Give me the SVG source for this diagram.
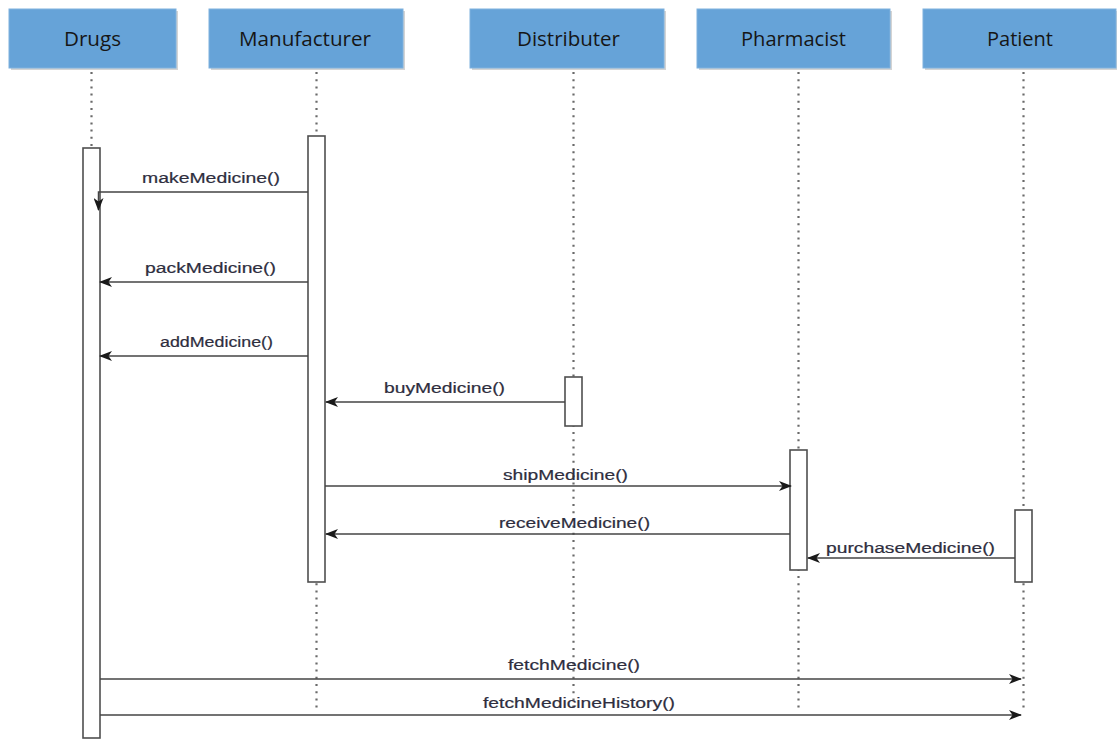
<svg xmlns="http://www.w3.org/2000/svg" width="1117" height="740" viewBox="0 0 1117 740">
  <defs>
    <marker id="arrow" viewBox="0 0 13 10" refX="12" refY="5" markerWidth="13" markerHeight="10" markerUnits="userSpaceOnUse" orient="auto">
      <path d="M0,0 L13,5 L0,10 L3.5,5 Z" fill="#1a1a1a"/>
    </marker>
    <style>
      .head { fill: #66a3d8; stroke: #7fb1de; stroke-width: 1; }
      .shadow { fill: #d4d4d4; }
      .htext { font-family: "Open Sans", "Liberation Sans", sans-serif; font-size: 20px; fill: #161616; text-anchor: middle; }
      .life { stroke: #6a6a6a; stroke-width: 2.2; stroke-dasharray: 2 5.2; fill: none; }
      .bar { fill: #ffffff; stroke: #4f4f4f; stroke-width: 1.6; }
      .msg { stroke: #444444; stroke-width: 1.5; fill: none; marker-end: url(#arrow); }
      .label { font-family: "Liberation Sans", Arial, sans-serif; font-size: 14px; fill: #2e2e3e; stroke: #2e2e3e; stroke-width: 0.2; }
    </style>
  </defs>

  <!-- lifelines -->
  <g id="lifelines">
    <line class="life" x1="91.5" y1="72" x2="91.5" y2="147"/>
    <line class="life" x1="316.5" y1="72" x2="316.5" y2="711"/>
    <line class="life" x1="573.5" y1="72" x2="573.5" y2="711"/>
    <line class="life" x1="798.5" y1="72" x2="798.5" y2="711"/>
    <line class="life" x1="1023.5" y1="72" x2="1023.5" y2="711"/>
  </g>

  <!-- participants -->
  <g id="drugs">
    <rect class="shadow" x="11" y="11" width="167" height="59"/>
    <rect class="head" x="9" y="9" width="167" height="59"/>
    <text class="htext" x="92.5" y="46" textLength="57" lengthAdjust="spacingAndGlyphs">Drugs</text>
    <rect class="bar" x="83" y="148" width="17" height="590"/>
  </g>
  <g id="manufacturer">
    <rect class="shadow" x="211" y="11" width="194" height="59"/>
    <rect class="head" x="209" y="9" width="194" height="59"/>
    <text class="htext" x="305" y="46" textLength="132" lengthAdjust="spacingAndGlyphs">Manufacturer</text>
    <rect class="bar" x="308" y="136" width="17" height="446"/>
  </g>
  <g id="distributer">
    <rect class="shadow" x="472" y="11" width="194" height="59"/>
    <rect class="head" x="470" y="9" width="194" height="59"/>
    <text class="htext" x="568.5" y="46" textLength="103" lengthAdjust="spacingAndGlyphs">Distributer</text>
    <rect class="bar" x="565" y="377" width="17" height="49"/>
  </g>
  <g id="pharmacist">
    <rect class="shadow" x="699" y="11" width="193" height="59"/>
    <rect class="head" x="697" y="9" width="193" height="59"/>
    <text class="htext" x="793.5" y="46" textLength="105" lengthAdjust="spacingAndGlyphs">Pharmacist</text>
    <rect class="bar" x="790" y="450" width="17" height="120"/>
  </g>
  <g id="patient">
    <rect class="shadow" x="925" y="11" width="193" height="59"/>
    <rect class="head" x="923" y="9" width="193" height="59"/>
    <text class="htext" x="1020" y="46" textLength="66" lengthAdjust="spacingAndGlyphs">Patient</text>
    <rect class="bar" x="1015" y="510" width="17" height="72"/>
  </g>

  <!-- messages -->
  <g id="connectors">
    <path class="msg" d="M308,192 H98.5 V210"/>
    <text class="label" x="142" y="183" textLength="138" lengthAdjust="spacingAndGlyphs">makeMedicine()</text>

    <line class="msg" x1="308" y1="282" x2="100" y2="282"/>
    <text class="label" x="145" y="273" textLength="131" lengthAdjust="spacingAndGlyphs">packMedicine()</text>

    <line class="msg" x1="308" y1="356" x2="100" y2="356"/>
    <text class="label" x="160" y="347" textLength="113" lengthAdjust="spacingAndGlyphs">addMedicine()</text>

    <line class="msg" x1="565" y1="402" x2="326" y2="402"/>
    <text class="label" x="384" y="393" textLength="121" lengthAdjust="spacingAndGlyphs">buyMedicine()</text>

    <line class="msg" x1="325" y1="486" x2="791" y2="486"/>
    <text class="label" x="503" y="480" textLength="125" lengthAdjust="spacingAndGlyphs">shipMedicine()</text>

    <line class="msg" x1="790" y1="534" x2="326" y2="534"/>
    <text class="label" x="499" y="528" textLength="151" lengthAdjust="spacingAndGlyphs">receiveMedicine()</text>

    <line class="msg" x1="1015" y1="558" x2="808" y2="558"/>
    <text class="label" x="826" y="553" textLength="169" lengthAdjust="spacingAndGlyphs">purchaseMedicine()</text>

    <line class="msg" x1="100" y1="679" x2="1021" y2="679"/>
    <text class="label" x="508" y="670" textLength="132" lengthAdjust="spacingAndGlyphs">fetchMedicine()</text>

    <line class="msg" x1="100" y1="715" x2="1021" y2="715"/>
    <text class="label" x="483" y="708" textLength="192" lengthAdjust="spacingAndGlyphs">fetchMedicineHistory()</text>
  </g>
</svg>
